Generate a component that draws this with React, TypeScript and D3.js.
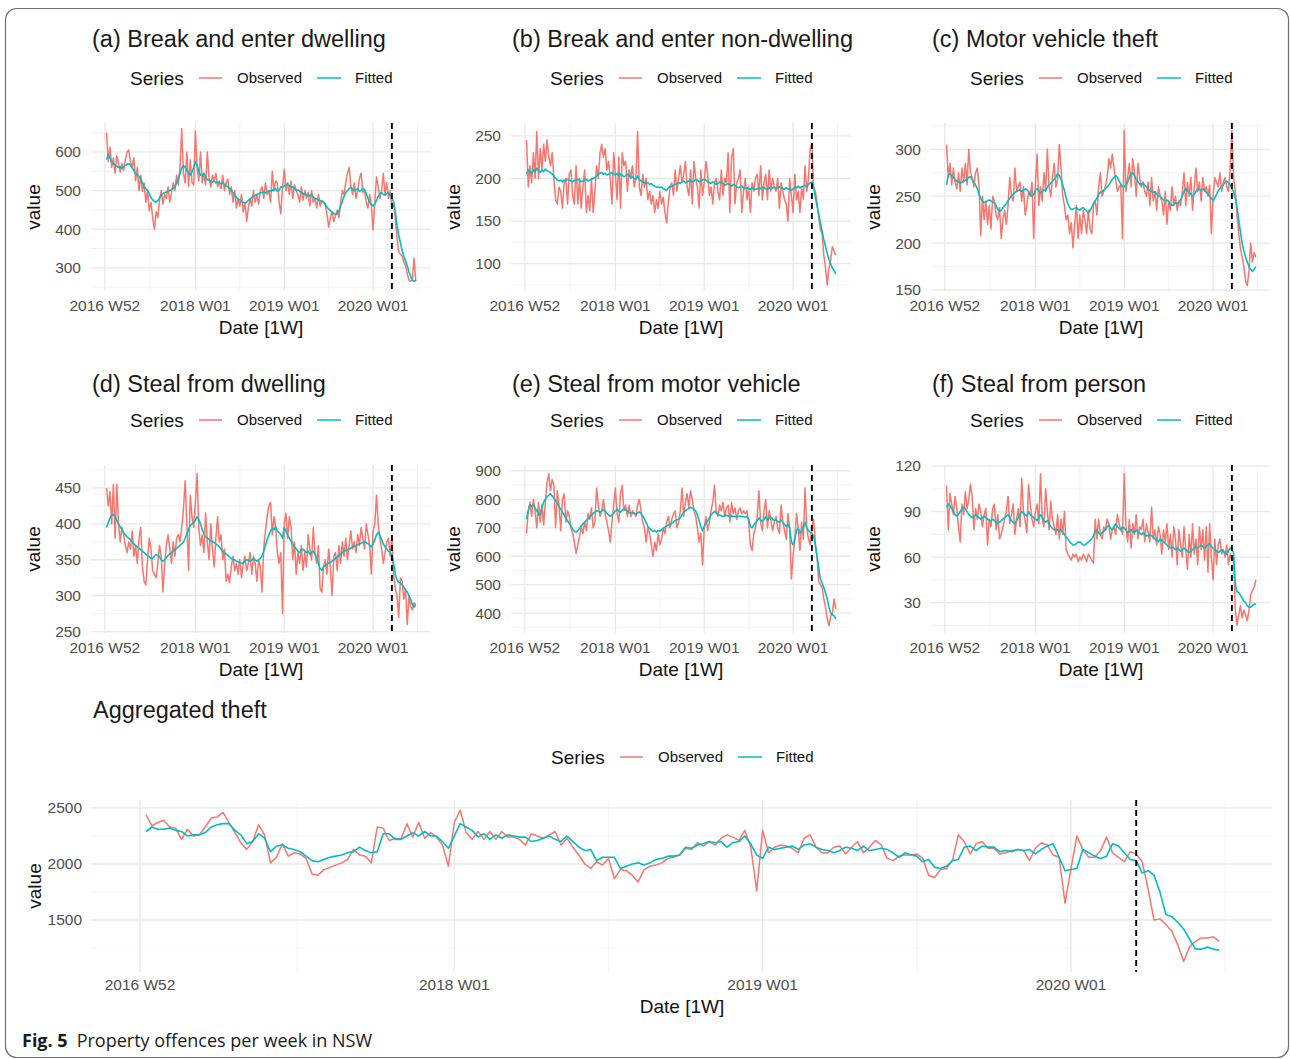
import React from "react";
import * as d3 from "d3";

// ---------- axis / labels ----------
const xTickWeeks = [0, 53, 105, 157];
const xTickLabels = ["2016 W52", "2018 W01", "2019 W01", "2020 W01"];
const xMinorWeeks = [26.5, 79, 131, 183];
const xDomainWeeks = [-8.1, 190.9];
const firstWeek = 1; // 2017 W01
const interventionWeek = 168; // 2020 W12
const seriesNames = ["Observed", "Fitted"];
const seriesColors = ["#F8766D", "#00BFC4"];

// ---------- (a) Break and enter dwelling ----------
const aObs = [
  650,575,612,560,585,545,590,572,548,570,552,580,600,
  605,575,560,585,525,560,500,540,498,520,470,500,448,
  470,430,400,445,430,475,500,465,490,480,510,470,495,
  520,500,540,515,560,660,545,520,600,510,580,520,515,
  655,560,525,600,520,545,515,600,530,510,540,525,545,
  510,525,505,540,500,520,530,490,510,470,500,455,480,
  460,490,445,470,420,455,480,460,500,470,490,465,500,
  510,480,520,490,500,470,550,500,525,520,470,440,510,
  555,500,520,490,525,480,515,500,490,470,510,475,500,
  480,495,460,500,470,480,455,490,460,475,470,465,440,
  405,430,445,420,435,450,430,470,500,490,520,545,560,
  510,490,520,480,500,530,545,495,500,470,455,490,460,
  398,470,535,510,480,500,545,490,520,480,500,455,470,
  430,380,340,335,330,315,305,285,268,265,270,325,265,
];
const aFit = [
  580,592,585,575,570,566,563,560,562,558,561,565,568,
  570,566,560,552,545,540,537,530,520,510,505,500,492,
  482,476,472,470,474,480,488,492,495,496,498,500,502,
  505,510,520,530,545,558,565,560,552,545,540,548,560,
  575,565,550,540,538,545,535,528,526,524,522,525,520,
  522,520,518,520,516,512,510,505,500,495,488,482,478,
  476,472,470,468,470,475,478,482,486,488,490,492,494,
  495,497,494,496,500,498,502,500,505,498,500,510,508,
  512,515,518,512,508,510,505,500,502,498,495,492,490,
  490,488,486,490,484,480,478,476,474,472,470,465,458,
  452,448,445,440,438,440,448,460,472,485,495,500,505,
  508,504,500,502,505,498,500,506,502,492,480,470,465,
  460,465,475,485,492,495,490,488,492,495,490,482,470,
  445,410,385,365,345,330,318,305,290,278,268,265,268,
];

// ---------- (b) Break and enter non-dwelling ----------
const bObs = [
  245,190,215,195,230,200,255,200,235,210,240,220,245,
  225,215,230,200,175,170,190,185,165,195,200,170,205,
  210,180,170,215,170,200,165,190,210,160,180,162,200,
  160,185,215,200,230,240,225,235,210,220,200,170,230,
  205,175,225,165,230,215,220,185,210,200,215,190,200,
  255,190,180,205,190,200,175,185,170,180,160,175,165,
  185,170,178,160,148,172,190,195,180,210,185,200,215,
  195,205,220,190,180,210,170,220,200,190,165,210,180,
  195,220,205,180,190,170,195,200,185,175,210,180,200,
  195,230,160,225,235,170,195,200,210,160,185,200,175,
  190,160,195,185,200,205,180,215,175,195,205,175,210,
  185,200,190,185,200,165,195,185,175,170,150,200,180,
  160,205,175,185,160,190,175,215,185,200,235,240,190,
  185,172,155,140,135,110,95,75,95,105,120,115,110,
];
const bFit = [
  205,210,208,206,210,208,212,209,207,210,208,211,209,
  208,207,205,203,200,198,197,198,196,198,197,199,198,
  197,196,198,197,199,198,196,197,198,199,197,198,199,
  200,201,203,205,206,207,205,206,204,205,206,207,205,
  204,206,203,205,204,202,203,205,203,201,202,200,199,
  203,199,197,196,195,194,195,193,194,192,191,190,190,
  189,190,188,187,186,189,191,190,192,193,194,195,194,
  196,197,195,196,197,198,196,197,199,198,196,197,198,
  199,198,196,195,194,196,195,193,194,196,195,194,192,
  193,194,192,191,193,192,190,189,190,191,189,188,189,
  188,187,189,188,187,188,189,188,190,189,188,187,189,
  188,189,190,188,189,190,189,188,187,189,188,187,186,
  188,190,189,191,189,190,191,192,190,193,195,196,190,
  178,168,158,148,138,128,120,112,105,100,95,92,88,
];

// ---------- (c) Motor vehicle theft ----------
const cObs = [
  305,270,285,262,280,265,258,275,255,280,265,285,262,
  300,275,270,260,275,280,262,208,250,225,245,220,240,
  215,250,245,230,225,238,205,225,235,220,240,270,250,
  245,280,255,260,265,245,260,230,240,255,250,265,205,
  262,295,240,260,245,275,255,300,260,250,270,285,260,
  268,305,280,250,240,225,230,210,222,195,220,240,205,
  230,210,235,225,210,235,215,210,240,245,230,260,275,
  250,255,260,270,290,280,295,280,268,255,260,262,205,
  320,255,270,285,260,290,275,250,285,270,260,265,255,
  250,265,240,270,245,255,235,260,250,245,230,255,220,
  245,235,260,240,250,235,245,240,255,275,240,265,250,
  270,235,260,280,255,265,245,270,255,260,250,262,210,
  250,270,265,260,275,255,265,270,260,255,280,320,270,
  255,230,210,195,185,175,160,155,170,200,180,190,185,
];
const cFit = [
  262,272,274,272,270,268,266,265,264,265,266,267,268,
  270,271,268,265,262,258,252,248,245,243,244,245,246,
  245,244,243,240,236,234,235,238,240,242,245,248,250,
  252,254,255,256,257,255,256,258,257,255,252,250,252,
  256,258,256,254,255,257,256,260,262,264,266,268,270,
  274,272,268,262,256,248,242,238,236,236,237,238,236,
  235,237,238,236,234,232,235,238,242,245,248,252,254,
  255,256,258,260,262,265,268,270,272,270,266,263,260,
  260,262,265,270,274,275,272,268,265,263,262,264,262,
  260,258,256,255,254,255,252,250,250,248,246,245,246,
  244,242,240,241,243,242,244,246,250,255,258,256,254,
  252,250,252,255,258,257,256,258,256,254,252,250,248,
  245,248,252,256,258,260,262,265,266,264,262,258,255,
  248,238,225,212,200,192,185,180,175,172,170,172,175,
];

// ---------- (d) Steal from dwelling ----------
const dObs = [
  450,425,445,400,455,380,455,400,375,395,385,370,360,
  375,365,390,355,370,345,380,395,340,320,315,350,380,
  365,335,330,325,345,370,355,305,345,370,385,365,345,
  375,355,380,385,375,395,420,460,400,335,440,410,395,
  430,470,395,370,385,360,415,375,350,400,365,340,380,
  410,375,385,350,365,320,330,318,340,355,335,345,330,
  350,325,345,355,335,345,360,330,355,345,320,350,340,
  305,365,390,410,425,430,385,410,395,360,345,360,275,
  400,415,380,410,395,350,375,330,360,345,370,335,360,
  340,385,365,350,395,360,345,370,310,305,340,350,330,
  365,340,300,355,360,335,370,345,375,355,380,350,370,
  390,365,375,360,385,370,395,380,365,400,385,370,330,
  390,400,440,400,380,365,345,360,375,380,355,383,330,
  310,300,270,325,320,295,310,260,300,285,280,290,288,
];
const dFit = [
  395,402,408,412,413,410,405,400,396,392,388,385,382,
  380,378,375,372,370,368,366,364,362,360,358,356,354,
  352,352,355,357,356,354,350,348,350,353,356,358,360,
  362,364,366,368,370,372,375,380,386,392,398,400,402,
  405,410,406,400,392,386,382,380,378,376,375,374,372,
  370,368,365,362,360,358,356,354,352,350,350,348,347,
  346,345,346,348,350,349,348,350,352,350,348,350,352,
  355,362,370,378,385,390,394,392,396,390,388,385,380,
  395,390,385,380,376,372,368,365,362,360,363,365,362,
  360,362,358,360,362,358,352,345,338,335,340,342,344,
  345,346,348,350,352,354,356,358,360,362,363,364,365,
  366,368,369,370,371,372,373,374,375,374,372,370,368,
  372,378,385,388,384,378,372,368,365,362,360,356,345,
  330,322,318,318,315,312,308,305,300,295,288,284,288,
];

// ---------- (e) Steal from motor vehicle ----------
const eObs = [
  680,760,790,740,800,760,700,790,720,780,710,790,860,
  890,830,870,850,700,830,780,690,800,820,720,760,740,
  700,680,650,610,640,670,700,680,720,690,750,730,770,
  700,720,840,780,740,760,800,750,720,690,650,720,780,
  840,750,720,820,850,760,780,740,780,740,760,750,740,
  780,800,760,720,700,650,700,680,640,600,650,620,680,
  640,660,700,680,720,740,700,730,750,760,700,720,760,
  840,740,790,820,770,830,800,760,740,700,650,680,570,
  700,740,690,720,760,790,850,760,740,780,760,790,740,
  770,780,720,790,750,770,730,760,770,750,760,750,760,
  720,640,620,680,700,740,830,720,690,760,800,700,760,
  730,690,720,740,700,680,780,720,690,660,750,700,520,
  600,660,750,700,620,720,660,840,700,660,640,700,730,
  650,600,510,500,490,450,420,380,355,390,400,450,415,
];
const eFit = [
  730,760,780,775,780,770,760,745,750,770,790,800,810,
  815,820,812,805,795,785,775,765,755,745,735,725,715,
  705,695,688,685,690,698,706,714,720,726,732,738,745,
  750,755,760,758,755,760,765,760,752,745,740,745,752,
  760,765,758,755,762,768,762,758,755,752,750,752,748,
  752,756,750,742,732,718,705,698,692,688,690,685,690,
  688,692,698,702,706,710,712,715,720,725,728,730,735,
  745,755,760,765,768,772,770,765,760,745,725,705,690,
  705,715,725,735,745,752,758,752,748,745,742,740,742,
  744,742,740,742,741,740,739,740,741,740,739,738,740,
  730,705,700,710,718,725,735,728,722,730,740,728,735,
  738,730,725,728,722,720,728,720,712,705,712,700,650,
  640,660,690,700,680,690,700,720,700,690,685,680,672,
  640,600,560,520,505,490,470,450,420,400,395,390,380,
];

// ---------- (f) Steal from person ----------
const fObs = [
  107,78,102,95,88,100,92,80,70,95,88,103,92,
  98,108,100,78,92,85,95,90,80,88,92,68,85,
  80,92,95,78,88,72,75,80,85,90,100,82,88,
  95,75,85,92,80,112,90,84,76,108,95,85,80,
  90,95,82,115,85,80,105,90,78,97,85,80,75,
  88,72,85,75,90,65,62,60,58,62,60,62,57,
  60,58,62,60,57,62,60,58,56,85,72,85,75,
  72,80,78,85,82,72,78,80,75,88,82,78,75,
  115,80,70,85,66,82,75,88,72,80,78,85,70,
  82,76,70,93,72,78,68,80,75,62,78,70,82,
  65,75,60,80,72,55,78,68,60,80,65,52,75,
  60,82,62,72,55,80,65,78,58,80,50,82,60,
  45,72,55,68,72,62,65,60,68,55,62,58,60,
  25,15,22,28,20,25,22,18,25,35,38,40,45,
];
const fFit = [
  93,95,94,92,90,88,87,88,90,92,93,92,90,
  88,87,86,87,88,87,86,85,86,87,86,85,84,
  84,85,84,83,82,83,84,85,86,87,88,86,84,
  83,82,84,86,88,90,89,88,87,90,88,87,86,
  85,84,86,88,86,84,83,84,82,80,79,78,78,
  78,77,78,76,75,73,72,70,69,68,68,69,70,
  70,69,68,68,69,70,71,72,74,77,78,76,75,
  76,77,78,80,81,79,78,80,82,80,79,78,80,
  79,78,76,77,78,77,76,78,77,76,75,76,75,
  74,74,75,74,73,72,71,70,72,71,70,69,68,
  67,66,67,66,65,66,65,64,65,66,65,64,63,
  64,65,66,67,66,67,68,67,66,67,68,69,67,
  66,65,64,63,64,65,64,63,62,64,66,65,63,
  42,37,37,35,33,31,30,28,27,27,28,29,29,
];

// ---------- Aggregated theft ----------
const aggObs = [
  2440,2340,2370,2390,2330,2320,2220,2310,2250,2260,2330,2410,2420,
  2460,2370,2280,2190,2130,2200,2350,2260,2010,2060,2180,2070,2100,
  2090,2050,1910,1900,1950,1970,1990,2010,2040,2130,2080,2070,2010,
  2330,2320,2210,2230,2220,2360,2240,2370,2230,2280,2240,2170,1980,
  2370,2480,2280,2220,2290,2220,2290,2220,2290,2240,2240,2220,2170,
  2270,2250,2230,2260,2290,2170,2230,2150,2080,2000,1960,2020,1990,
  2050,1870,1950,1940,1900,1840,1950,1980,1990,2010,2050,2060,2080,
  2140,2130,2190,2160,2200,2170,2230,2260,2240,2210,2300,2150,1760,
  2300,2100,2150,2170,2160,2140,2100,2230,2260,2150,2100,2100,2150,
  2160,2090,2150,2200,2100,2150,2210,2170,2050,2030,2070,2080,2080,
  2090,2050,1900,1880,1950,1960,2030,2260,2200,2090,2180,2200,2140,
  2140,2090,2100,2120,2130,2120,2030,2140,2190,2170,2080,2060,1650,
  1960,2250,2130,2060,2060,2120,2240,2100,2060,2020,2110,2090,2020,
  1780,1500,1510,1460,1400,1280,1130,1260,1310,1340,1340,1350,1310,
];
const aggFit = [
  2290,2330,2310,2310,2320,2300,2290,2250,2260,2260,2280,2330,2350,
  2360,2360,2300,2260,2180,2200,2270,2230,2110,2160,2170,2140,2130,
  2110,2070,2030,2020,2040,2060,2070,2080,2100,2110,2150,2120,2100,
  2110,2270,2270,2220,2220,2250,2280,2250,2290,2250,2250,2200,2140,
  2250,2360,2330,2300,2240,2270,2220,2260,2230,2260,2250,2240,2240,
  2200,2210,2230,2250,2220,2200,2250,2200,2150,2120,2130,2030,2060,
  2060,2060,1960,1980,2000,2010,1990,2010,2040,2050,2070,2070,2080,
  2150,2140,2170,2180,2200,2190,2200,2150,2190,2200,2250,2180,2080,
  2050,2150,2130,2140,2150,2160,2130,2170,2180,2150,2130,2120,2100,
  2120,2150,2140,2120,2160,2120,2130,2140,2130,2100,2060,2100,2080,
  2070,2020,2040,1970,1960,1980,2030,2040,2150,2160,2120,2160,2150,
  2150,2110,2120,2110,2130,2120,2130,2090,2130,2160,2180,2060,1940,
  1950,1960,2130,2100,2070,2050,2070,2180,2160,2100,2040,2030,1920,
  1940,1900,1750,1550,1530,1480,1420,1330,1240,1240,1260,1240,1230,
];

// ---------- per-panel y axes ----------
const aTicks = [300, 400, 500, 600];
const aMinor = [250, 350, 450, 550, 650];
const bTicks = [100, 150, 200, 250];
const bMinor = [75, 125, 175, 225];
const cTicks = [150, 200, 250, 300];
const cMinor = [175, 225, 275, 325];
const dTicks = [250, 300, 350, 400, 450];
const dMinor = [275, 325, 375, 425, 475];
const eTicks = [400, 500, 600, 700, 800, 900];
const eMinor = [350, 450, 550, 650, 750, 850];
const fTicks = [30, 60, 90, 120];
const fMinor = [15, 45, 75, 105];
const aggTicks = [1500, 2000, 2500];
const aggMinor = [1250, 1750, 2250];

const panelTitles = [
  "(a) Break and enter dwelling",
  "(b) Break and enter non-dwelling",
  "(c) Motor vehicle theft",
  "(d) Steal from dwelling",
  "(e) Steal from motor vehicle",
  "(f) Steal from person",
];
const aggTitle = "Aggregated theft";

const FONT = "'Liberation Sans', Arial, Helvetica, sans-serif";

type PanelProps = {
  x0: number; x1: number; yTop: number; yBot: number;
  title: string; titleY: number; legendY: number; tickY: number; axisTitleY: number;
  obs: number[]; fit: number[];
  yDomain: [number, number]; yTicks: number[]; yMinor: number[];
};

function Panel(p: PanelProps) {
  const x = d3.scaleLinear().domain(xDomainWeeks).range([p.x0, p.x1]);
  const y = d3.scaleLinear().domain(p.yDomain).range([p.yBot, p.yTop]);
  const line = d3
    .line<number>()
    .x((_, i) => x(i + firstWeek))
    .y((d) => y(d));
  const cx = (p.x0 + p.x1) / 2;
  const inY = (v: number) => v >= p.yDomain[0] && v <= p.yDomain[1];
  const inX = (v: number) => v >= xDomainWeeks[0] && v <= xDomainWeeks[1];
  return (
    <g>
      {p.yMinor.filter(inY).map((v) => (
        <line key={"ym" + v} x1={p.x0} x2={p.x1} y1={y(v)} y2={y(v)} stroke="#f2f2f2" strokeWidth={0.9} />
      ))}
      {xMinorWeeks.filter(inX).map((v) => (
        <line key={"xm" + v} x1={x(v)} x2={x(v)} y1={p.yTop} y2={p.yBot} stroke="#f2f2f2" strokeWidth={0.9} />
      ))}
      {p.yTicks.filter(inY).map((v) => (
        <line key={"yM" + v} x1={p.x0} x2={p.x1} y1={y(v)} y2={y(v)} stroke="#e8e8e8" strokeWidth={1.3} />
      ))}
      {xTickWeeks.map((v) => (
        <line key={"xM" + v} x1={x(v)} x2={x(v)} y1={p.yTop} y2={p.yBot} stroke="#e8e8e8" strokeWidth={1.3} />
      ))}
      <path d={line(p.obs) || ""} fill="none" stroke={seriesColors[0]} strokeWidth={1.5} strokeLinejoin="round" />
      <path d={line(p.fit) || ""} fill="none" stroke={seriesColors[1]} strokeWidth={1.6} strokeLinejoin="round" />
      <line
        x1={x(interventionWeek)} x2={x(interventionWeek)} y1={p.yTop} y2={p.yBot}
        stroke="#000" strokeWidth={1.9} strokeDasharray="6,4"
      />
      {p.yTicks.filter(inY).map((v) => (
        <text key={"yl" + v} x={p.x0 - 10} y={y(v)} dy="0.35em" textAnchor="end" fontSize={15.5} fill="#4d4d4d">
          {v}
        </text>
      ))}
      {xTickWeeks.map((v, i) => (
        <text key={"xl" + v} x={x(v)} y={p.tickY} dy="0.35em" textAnchor="middle" fontSize={15.5} fill="#4d4d4d">
          {xTickLabels[i]}
        </text>
      ))}
      <text x={cx} y={p.axisTitleY} dy="0.35em" textAnchor="middle" fontSize={19} fill="#111">
        Date [1W]
      </text>
      <text
        transform={`translate(${p.x0 - 58},${(p.yTop + p.yBot) / 2}) rotate(-90)`}
        dy="0.35em" textAnchor="middle" fontSize={19} fill="#111"
      >
        value
      </text>
      <text x={p.x0 + 1} y={p.titleY} fontSize={23.5} fill="#1a1a1a">
        {p.title}
      </text>
      <g transform={`translate(${cx},${p.legendY})`}>
        <text x={-131} y={0} dy="0.35em" fontSize={19} fill="#111">Series</text>
        <line x1={-62} x2={-39} y1={0} y2={0} stroke={seriesColors[0]} strokeWidth={1.5} />
        <text x={-24} y={0} dy="0.35em" fontSize={15} fill="#111">{seriesNames[0]}</text>
        <line x1={56} x2={80} y1={0} y2={0} stroke={seriesColors[1]} strokeWidth={1.5} />
        <text x={94} y={0} dy="0.35em" fontSize={15} fill="#111">{seriesNames[1]}</text>
      </g>
    </g>
  );
}

export default function App() {
  const cols = [
    [91, 431],
    [511, 851],
    [931, 1271],
  ];
  const rowY = [0, 342];
  const panels = [
    { obs: aObs, fit: aFit, dom: [240, 675], t: aTicks, m: aMinor },
    { obs: bObs, fit: bFit, dom: [68, 265], t: bTicks, m: bMinor },
    { obs: cObs, fit: cFit, dom: [149, 328], t: cTicks, m: cMinor },
    { obs: dObs, fit: dFit, dom: [248, 482], t: dTicks, m: dMinor },
    { obs: eObs, fit: eFit, dom: [330, 921], t: eTicks, m: eMinor },
    { obs: fObs, fit: fFit, dom: [10, 120.7], t: fTicks, m: fMinor },
  ];
  return (
    <svg
      width={1290}
      height={1059}
      style={{ position: "absolute", left: 0, top: 0, background: "#fff", display: "block" }}
      fontFamily={FONT}
    >
      <rect x={0} y={0} width={1290} height={1059} fill="#fff" />
      <rect x={5.5} y={8.5} width={1283} height={1049} rx={11} fill="none" stroke="#707070" strokeWidth={1.2} />
      {panels.map((pp, i) => {
        const c = cols[i % 3];
        const dy = rowY[Math.floor(i / 3)];
        return (
          <Panel
            key={i}
            x0={c[0]} x1={c[1]} yTop={123 + dy} yBot={291 + dy}
            title={panelTitles[i]} titleY={i < 3 ? 47 : 392}
            legendY={78 + dy} tickY={306 + dy} axisTitleY={327 + dy}
            obs={pp.obs} fit={pp.fit}
            yDomain={pp.dom as [number, number]} yTicks={pp.t} yMinor={pp.m}
          />
        );
      })}
      <Panel
        x0={92} x1={1272} yTop={800} yBot={972}
        title={aggTitle} titleY={718} legendY={757} tickY={985} axisTitleY={1006}
        obs={aggObs} fit={aggFit}
        yDomain={[1036, 2571]} yTicks={aggTicks} yMinor={aggMinor}
      />
      <text x={22} y={1047} fontFamily="'Open Sans', 'Noto Sans', sans-serif" fontSize={18} fill="#1a1a1a">
        <tspan fontWeight="bold">Fig. 5</tspan>
        <tspan dx={9}>Property offences per week in NSW</tspan>
      </text>
    </svg>
  );
}
